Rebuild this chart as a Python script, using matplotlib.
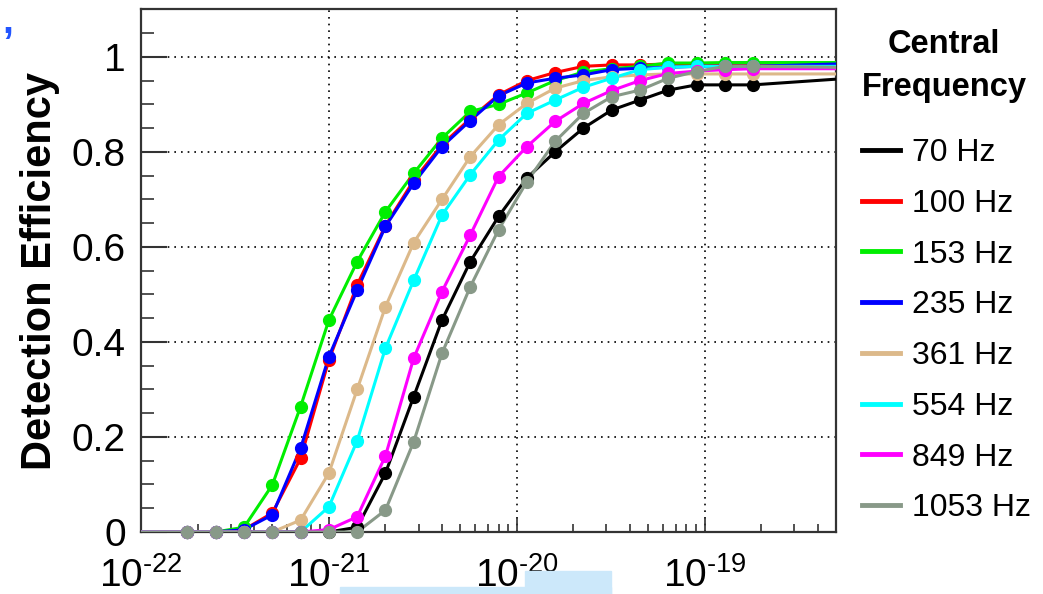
import numpy as np
import matplotlib
matplotlib.use("Agg")
import matplotlib.pyplot as plt
from matplotlib.lines import Line2D
from matplotlib.patches import Rectangle
from matplotlib.ticker import LogLocator, FixedLocator, MultipleLocator, FuncFormatter

plt.rcParams["font.family"] = ["Liberation Sans", "DejaVu Sans"]
plt.rcParams["mathtext.fontset"] = "custom"
plt.rcParams["mathtext.rm"] = "Liberation Sans"

# === Data ===
# injected strain amplitude: steps of sqrt(2) around 1e-21
step = np.arange(-5, 16)
hrss = 1e-21 * 2.0 ** (step / 2.0)

labels = ["70 Hz", "100 Hz", "153 Hz", "235 Hz", "361 Hz", "554 Hz", "849 Hz", "1053 Hz"]
colors = ["#000000", "#ff0000", "#00ee00", "#0000ff", "#dcb98a", "#00ffff", "#ff00ff", "#889988"]

eff_70 = [0, 0, 0, 0, 0, 0, 0.01, 0.124, 0.285, 0.446, 0.569, 0.664, 0.745, 0.80, 0.85,
          0.888, 0.909, 0.93, 0.941, 0.941, 0.941]
eff_100 = [0, 0, 0.005, 0.04, 0.155, 0.362, 0.52, 0.645, 0.74, 0.815, 0.87, 0.92, 0.95,
           0.967, 0.98, 0.983, 0.983, 0.985, 0.985, 0.985, 0.985]
eff_153 = [0, 0, 0.01, 0.099, 0.264, 0.446, 0.569, 0.674, 0.755, 0.829, 0.885, 0.90, 0.924,
           0.95, 0.968, 0.975, 0.98, 0.987, 0.987, 0.988, 0.988]
eff_235 = [0, 0, 0.005, 0.036, 0.176, 0.369, 0.509, 0.643, 0.734, 0.811, 0.866, 0.918, 0.945,
           0.955, 0.962, 0.973, 0.976, 0.978, 0.98, 0.98, 0.98]
eff_361 = [0, 0, 0, 0, 0.025, 0.124, 0.30, 0.474, 0.609, 0.70, 0.79, 0.857, 0.902, 0.934,
           0.95, 0.958, 0.962, 0.964, 0.964, 0.964, 0.964]
eff_554 = [0, 0, 0, 0, 0, 0.053, 0.192, 0.387, 0.53, 0.667, 0.752, 0.825, 0.881, 0.909,
           0.936, 0.955, 0.973, 0.978, 0.98, 0.98, 0.98]
eff_849 = [0, 0, 0, 0, 0, 0.005, 0.032, 0.16, 0.366, 0.506, 0.625, 0.748, 0.811, 0.864,
           0.902, 0.929, 0.95, 0.965, 0.97, 0.973, 0.975]
eff_1053 = [0, 0, 0, 0, 0, 0, 0, 0.046, 0.19, 0.376, 0.516, 0.636, 0.737, 0.822, 0.881,
            0.916, 0.93, 0.955, 0.969, 0.98, 0.98]
efficiencies = [eff_70, eff_100, eff_153, eff_235, eff_361, eff_554, eff_849, eff_1053]

# fit plateau at the right edge of the plot
plateau = [0.953, 0.985, 0.988, 0.985, 0.964, 0.98, 0.975, 0.978]

x_min, x_max = 1e-22, 5e-19

# === Plot ===
fig = plt.figure(figsize=(10.43, 5.94), dpi=100)
ax = fig.add_axes([0.1352, 0.1044, 0.6663, 0.8799])

for eff, top, col in zip(efficiencies, plateau, colors):
    xs = np.concatenate([[x_min], hrss, [x_max]])
    ys = np.concatenate([[0], eff, [top]])
    ax.plot(xs, ys, color=col, lw=2.2, zorder=3)
    ax.plot(hrss, eff, "o", color=col, ms=8.5, mec=col, clip_on=False, zorder=4)

ax.set_xscale("log")
ax.set_xlim(x_min, x_max)
ax.set_ylim(0, 1.1)

ax.xaxis.set_major_locator(FixedLocator([1e-22, 1e-21, 1e-20, 1e-19]))
ax.xaxis.set_minor_locator(LogLocator(base=10, subs=np.arange(2, 10)))
ax.xaxis.set_major_formatter(FuncFormatter(
    lambda v, p: r"$\mathregular{10^{\text{-%d}}}$" % abs(round(np.log10(v)))))
ax.xaxis.set_minor_formatter(FuncFormatter(lambda v, p: ""))
ax.yaxis.set_major_locator(MultipleLocator(0.2))
ax.yaxis.set_minor_locator(MultipleLocator(0.05))
ax.yaxis.set_major_formatter(FuncFormatter(lambda v, p: "%g" % round(v, 1)))

ax.tick_params(axis="both", which="both", direction="in", top=False, right=False,
               labelsize=28, color="#333333")
ax.tick_params(axis="y", which="major", length=19, width=1.5, pad=11)
ax.tick_params(axis="y", which="minor", length=9, width=1.2)
ax.tick_params(axis="x", which="major", length=10, width=1.2, pad=18)
ax.tick_params(axis="x", which="minor", length=6, width=1.2)

ax.grid(True, which="major", color="black", linestyle=(0, (1, 3)), lw=1.2)
for sp in ax.spines.values():
    sp.set_linewidth(1.6)
    sp.set_color("#333333")

ax.set_ylabel("Detection Efficiency", fontsize=30, fontweight="bold", labelpad=8)

# legend: title as separate text, entries below it
fig.text(944 / 1043, 1 - 66 / 594, "Central\nFrequency", ha="center", va="center",
         fontsize=23.5, fontweight="bold", linespacing=1.5)
handles = [Line2D([0], [0], color=c, lw=3.5) for c in colors]
fig.legend(handles, labels, loc="upper left", bbox_to_anchor=(0.8265, 1 - 138 / 594),
           frameon=False, fontsize=23, handlelength=1.2, handletextpad=0.35,
           labelspacing=0.65, borderaxespad=0, borderpad=0)

# stray bits from the original slide
fig.text(0.002, 0.962, ",", color="#2255ff", fontsize=28, fontweight="bold", va="center")
fig.patches.append(Rectangle((340 / 1043, 0), 271 / 1043, 7 / 594, transform=fig.transFigure,
                             color="#cce8fa", zorder=10))
fig.patches.append(Rectangle((525 / 1043, 0), 86 / 1043, 23 / 594, transform=fig.transFigure,
                             color="#cce8fa", zorder=10))

fig.savefig("out.png", dpi=100)
